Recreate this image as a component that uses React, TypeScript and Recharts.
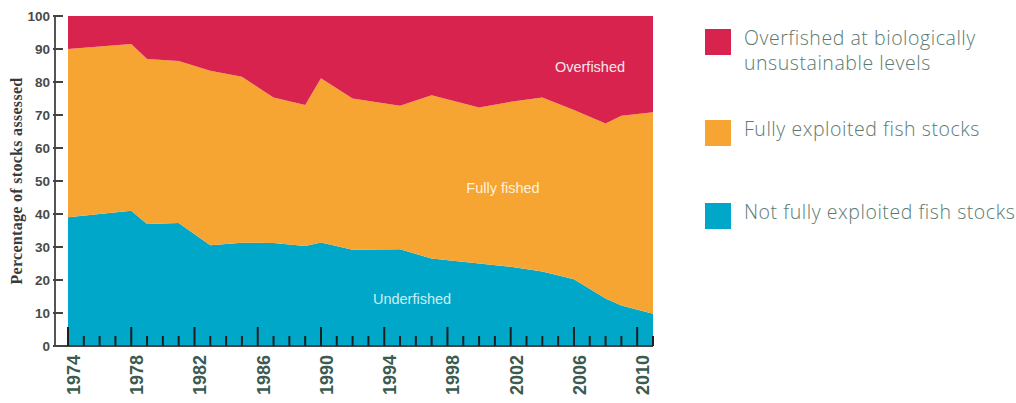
import React from "react";
import { AreaChart, Area, XAxis, YAxis } from "recharts";

const years = [1974, 1978, 1979, 1981, 1983, 1985, 1987, 1989, 1990, 1992, 1995, 1997, 2000, 2002, 2004, 2006, 2008, 2009, 2011];
const underfished = [39, 41, 37, 37.3, 30.5, 31.3, 31.2, 30.3, 31.4, 29.2, 29.3, 26.5, 25, 24, 22.6, 20.2, 14.4, 12.3, 9.8];
const fullyFished = [51, 50.5, 50, 49.1, 52.9, 50.3, 44.1, 42.7, 49.7, 45.8, 43.5, 49.5, 47.3, 50, 52.7, 51.3, 53, 57.5, 61];
const overfished = [10, 8.5, 13, 13.6, 16.6, 18.4, 24.7, 27, 18.9, 25, 27.2, 24, 27.7, 26, 24.7, 28.5, 32.6, 30.2, 29.2];

const xTicks = Array.from({ length: 38 }, (_, i) => 1974 + i);
const yTicks = [0, 10, 20, 30, 40, 50, 60, 70, 80, 90, 100];

const seriesNames = ["Underfished", "Fully fished", "Overfished"];
const legendLabels = [
  ["Overfished at biologically", "unsustainable levels"],
  ["Fully exploited fish stocks"],
  ["Not fully exploited fish stocks"],
];
const colors = { over: "#D8234F", fully: "#F7A532", under: "#00A7C8" };
const legendColors = [colors.over, colors.fully, colors.under];
const legendTops = [29, 120, 203];

const data = years.map((y, i) => ({
  year: y,
  under: underfished[i],
  fully: fullyFished[i],
  over: overfished[i],
}));

const XTick = (props: any) => {
  const { x, y, payload } = props;
  const v = payload.value as number;
  const major = (v - 1974) % 4 === 0;
  const h = major ? 19 : 10;
  return (
    <g>
      <line x1={x} x2={x} y1={y} y2={y - h} stroke="#1f1f1f" strokeWidth={2} />
      {major && (
        <text
          x={x + 12}
          y={y + 9}
          transform={`rotate(-90, ${x + 12}, ${y + 9})`}
          textAnchor="end"
          fontFamily="Liberation Sans, Arial, sans-serif"
          fontWeight={700}
          fontSize={18}
          fill="#3b5a50"
        >
          {v}
        </text>
      )}
    </g>
  );
};

const YTick = (props: any) => {
  const { x, y, payload } = props;
  return (
    <g>
      <line x1={x - 2} x2={x + 8} y1={y} y2={y} stroke="#444" strokeWidth={2} />
      <text
        x={x - 5}
        y={y}
        dy={4.8}
        textAnchor="end"
        fontFamily="Liberation Sans, Arial, sans-serif"
        fontWeight={700}
        fontSize={13.5}
        fill="#4a4a4a"
      >
        {payload.value}
      </text>
    </g>
  );
};

export default function App() {
  return (
    <div style={{ position: "fixed", left: 0, top: 0, width: 1016, height: 403, background: "#fff" }}>
      <AreaChart
        width={700}
        height={403}
        data={data}
        margin={{ top: 16, right: 47, bottom: 0, left: 0 }}
      >
        <Area type="linear" dataKey="under" name={seriesNames[0]} stackId="a" stroke="none" fill={colors.under} fillOpacity={1} isAnimationActive={false} />
        <Area type="linear" dataKey="fully" name={seriesNames[1]} stackId="a" stroke="none" fill={colors.fully} fillOpacity={1} isAnimationActive={false} />
        <Area type="linear" dataKey="over" name={seriesNames[2]} stackId="a" stroke="none" fill={colors.over} fillOpacity={1} isAnimationActive={false} />
        <XAxis
          dataKey="year"
          type="number"
          domain={[1974, 2011]}
          ticks={xTicks}
          interval={0}
          height={57}
          padding={{ left: 13, right: 0 }}
          tickSize={0}
          tickMargin={0}
          tickLine={false}
          axisLine={{ stroke: "#444", strokeWidth: 2 }}
          tick={<XTick />}
        />
        <YAxis
          type="number"
          domain={[0, 100]}
          ticks={yTicks}
          interval={0}
          width={55}
          tickSize={0}
          tickMargin={0}
          tickLine={false}
          axisLine={{ stroke: "#555", strokeWidth: 2 }}
          tick={<YTick />}
          label={{
            value: "Percentage of stocks assessed",
            angle: -90,
            position: "center",
            dx: -11,
            dy: 0,
            style: { fontFamily: "Liberation Serif, Times New Roman, serif", fontSize: 16, fontWeight: 700, letterSpacing: 0.3, fill: "#3a3a3a" },
          }}
        />
      </AreaChart>
      <div style={{ position: "absolute", left: 554, top: 58, width: 72, textAlign: "center", color: "#f6e6ea", fontFamily: "Liberation Sans, Arial, sans-serif", fontSize: 14.5, lineHeight: "18px" }}>
        {seriesNames[2]}
      </div>
      <div style={{ position: "absolute", left: 460, top: 179, width: 86, textAlign: "center", color: "#fdf0dc", fontFamily: "Liberation Sans, Arial, sans-serif", fontSize: 14.5, lineHeight: "18px" }}>
        {seriesNames[1]}
      </div>
      <div style={{ position: "absolute", left: 369, top: 290, width: 86, textAlign: "center", color: "#cdeef5", fontFamily: "Liberation Sans, Arial, sans-serif", fontSize: 14.5, lineHeight: "18px" }}>
        {seriesNames[0]}
      </div>
      {legendLabels.map((lines, i) => (
        <div key={i}>
          <div style={{ position: "absolute", left: 705, top: legendTops[i], width: 26, height: 26, background: legendColors[i] }} />
          <div
            style={{
              position: "absolute",
              left: 744,
              top: legendTops[i] - 4,
              fontFamily: "Open Sans, sans-serif",
              fontWeight: 300,
              fontSize: 19.5,
              letterSpacing: 0.55,
              lineHeight: "25px",
              color: "#5b7a70",
              whiteSpace: "nowrap",
            }}
          >
            {lines.map((l, j) => (
              <div key={j}>{l}</div>
            ))}
          </div>
        </div>
      ))}
    </div>
  );
}
